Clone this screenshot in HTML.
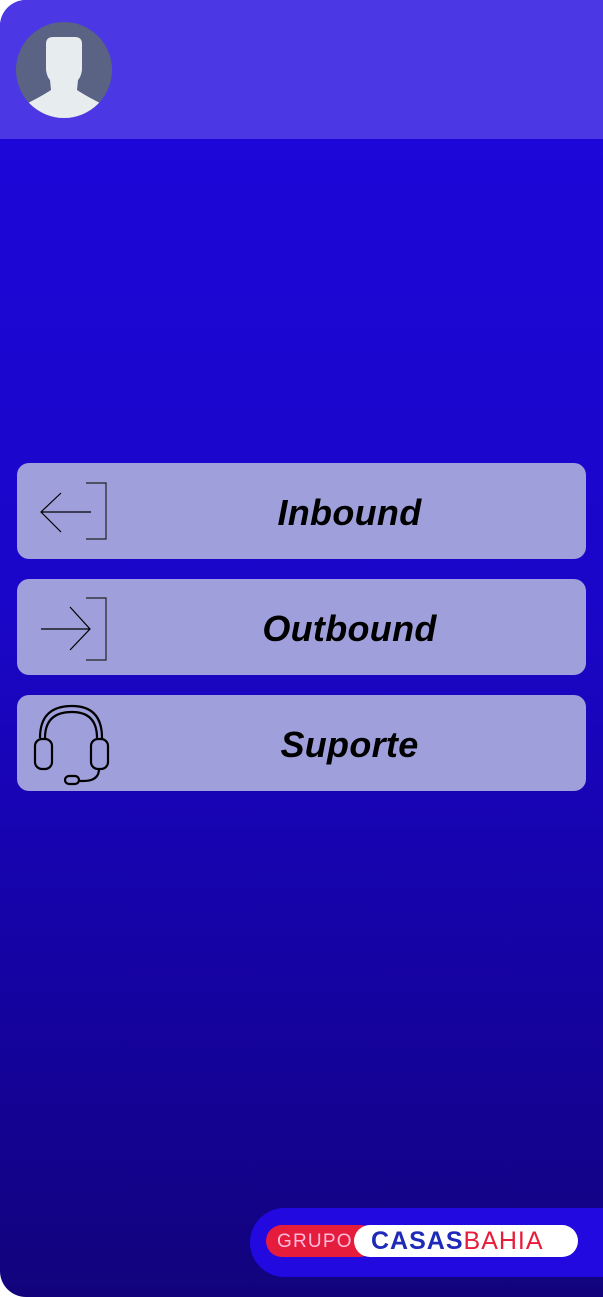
<!DOCTYPE html>
<html><head><style>
html,body{margin:0;padding:0;background:#fff;}
.page{position:relative;width:603px;height:1297px;border-radius:26px 0 0 26px;overflow:hidden;background:linear-gradient(#1c06d8 140px,#1a06c8 600px,#1503a0 1000px,#12037c 1297px);font-family:"Liberation Sans",sans-serif;}
.hdr{position:absolute;left:0;top:0;width:603px;height:139px;background:#4b37e4;}
.av{position:absolute;left:16px;top:22px;width:96px;height:96px;border-radius:50%;background:#5a6383;overflow:hidden;}
.btn{position:absolute;left:17px;width:569px;height:96px;background:#9f9fdb;border-radius:12px;}
.btn span{position:absolute;left:0;right:0;text-align:center;padding-left:96px;top:29px;font-size:36px;font-weight:bold;font-style:italic;color:#000;letter-spacing:0.3px;}
.ft{position:absolute;left:250px;top:1208px;width:360px;height:69px;background:#2209e0;border-radius:35px 0 0 35px;}
.red{position:absolute;left:266px;top:1225px;width:110px;height:32px;background:#e61c3c;border-radius:16px;color:#fbd;font-size:19px;line-height:33px;padding-left:11px;box-sizing:border-box;letter-spacing:1.2px;}
.wh{position:absolute;left:354px;top:1225px;width:224px;height:32px;background:#fff;border-radius:16px;font-size:25px;line-height:33px;padding-left:17px;box-sizing:border-box;letter-spacing:1px;white-space:nowrap;}
</style></head><body>
<div class="page">
<div class="hdr"></div>
<div class="av"><svg width="96" height="96" viewBox="0 0 96 96"><path d="M30 22 Q30 15 37 15 H59 Q66 15 66 22 V48 Q65 55 62 58 L61 68 Q70 74 86 82 Q80 92 60 96 H36 Q16 92 10 82 Q26 74 35 68 L34 58 Q31 55 30 48 Z" fill="#e7ecee"/></svg></div>
<div class="btn" style="top:463px"><svg style="position:absolute;left:0;top:0" width="100" height="96"><path d="M69 20 H89 V76 H69" fill="none" stroke="#222" stroke-width="1.2"/><path d="M44 30 L24 49 L44 69 M24 49 H74" fill="none" stroke="#000" stroke-width="1.2"/></svg><span>Inbound</span></div>
<div class="btn" style="top:579px"><svg style="position:absolute;left:0;top:0" width="100" height="96"><path d="M69 19 H89 V81 H69" fill="none" stroke="#222" stroke-width="1.2"/><path d="M53 28 L73 50 L53 71 M24 50 H73" fill="none" stroke="#000" stroke-width="1.2"/></svg><span>Outbound</span></div>
<div class="btn" style="top:695px"><svg style="position:absolute;left:0;top:0" width="100" height="96"><g fill="none" stroke="#000" stroke-width="2.2"><path d="M23 43 Q23 11 55 11 Q85 11 85 43"/><path d="M28 43 Q28 17 55 17 Q80 17 80 43"/><rect x="18" y="44" width="17" height="30" rx="7"/><rect x="74" y="44" width="17" height="30" rx="7"/><path d="M82 74 Q82 86 66 86 H61"/><rect x="48" y="81" width="14" height="8" rx="4"/></g></svg><span>Suporte</span></div>
<div class="ft"></div>
<div class="red">GRUPO</div>
<div class="wh"><b style="color:#1e2bb8">CASAS</b><span style="color:#e61c3c">BAHIA</span></div>
</div>
</body></html>
